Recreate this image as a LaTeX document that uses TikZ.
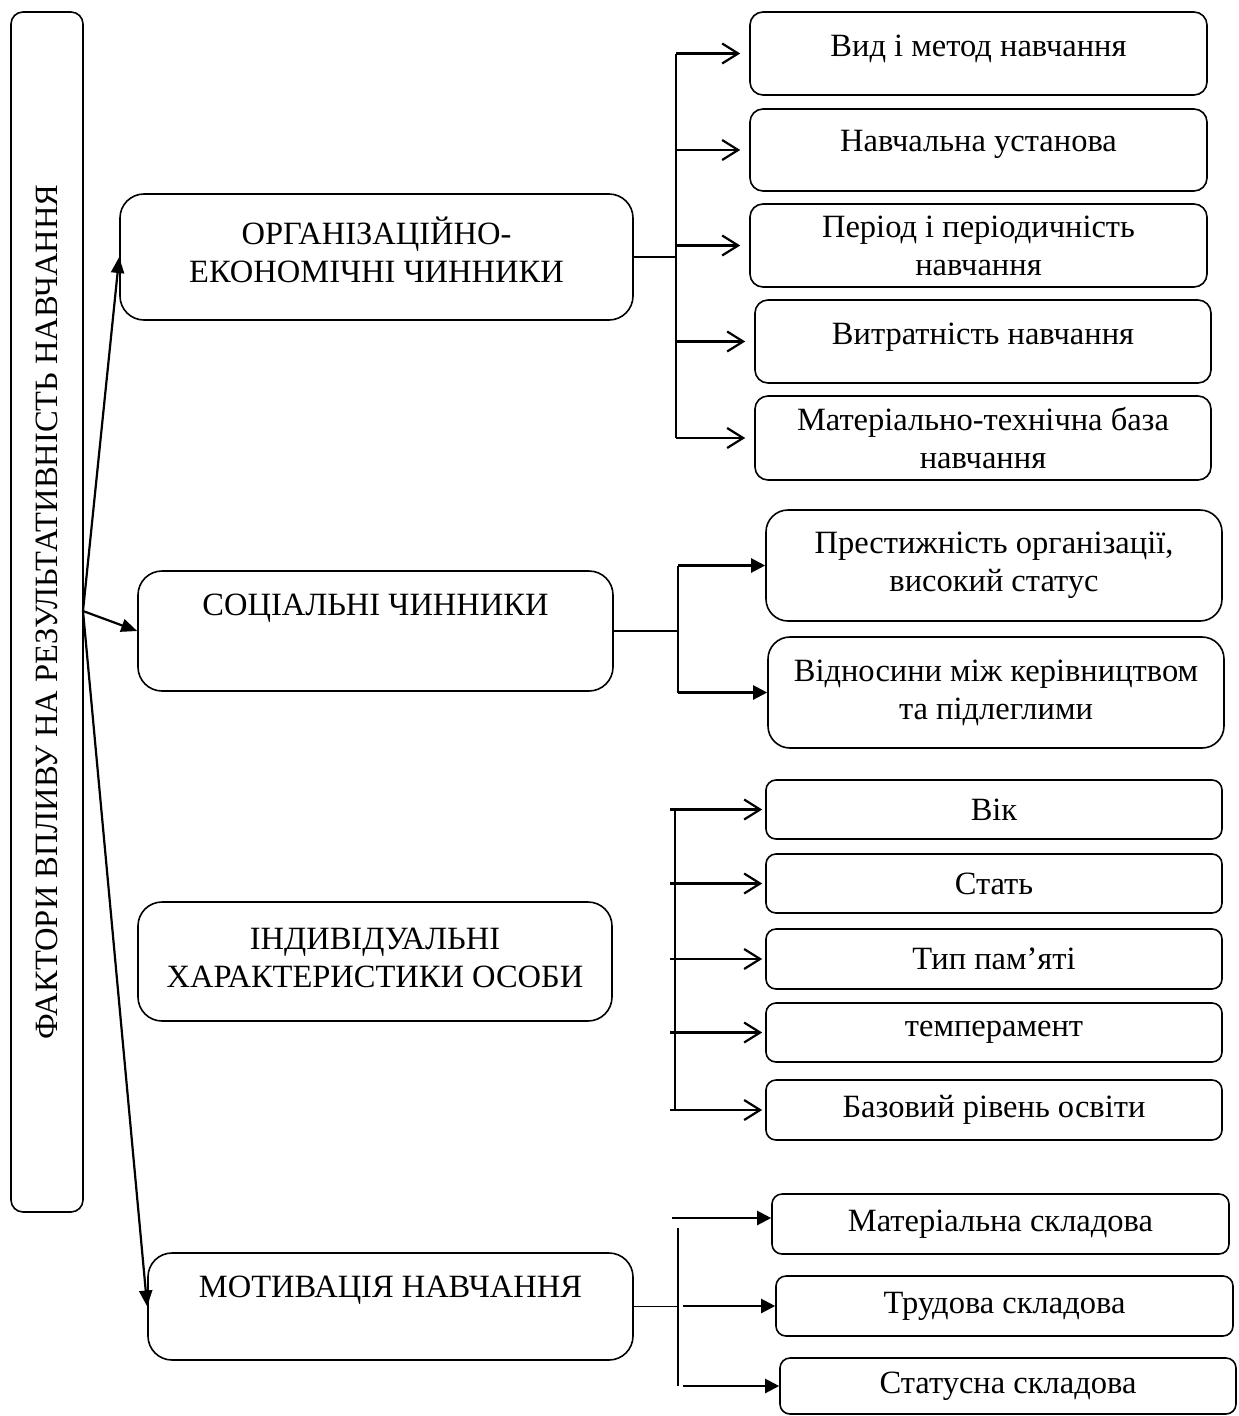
\documentclass[tikz,border=0pt]{standalone}
\usepackage{fontspec}
\setmainfont{Liberation Serif}
\usetikzlibrary{arrows.meta}
\begin{document}
\begin{tikzpicture}[x=1pt,y=-1pt,
  every node/.style={font=\fontsize{32.5}{38}\selectfont},
  box/.style={draw, line width=1.6pt, rounded corners=13pt, align=center, inner sep=0pt},
  big/.style={box, rounded corners=24pt},
  conn/.style={line width=2.2pt},
  openarr/.style={conn, -{Straight Barb[length=16pt,width=20pt]}},
  fillarr/.style={conn, -{Triangle[length=14pt,width=14pt]}},
  mainarr/.style={conn, -{Triangle[length=16pt,width=13pt]}}
]
\useasboundingbox (0,0) rectangle (1239,1416);

% left vertical box
\node[box, rounded corners=12pt, rotate=90, minimum width=1200pt, minimum height=72pt] (f) at (47,612)
  {ФАКТОРИ ВПЛИВУ НА РЕЗУЛЬТАТИВНІСТЬ НАВЧАННЯ};
\coordinate (o) at (83,611);

% main factor boxes
\node[big, minimum width=513pt, minimum height=126pt, text depth=14pt] (org) at (376.5,257)
  {ОРГАНІЗАЦІЙНО-\\ЕКОНОМІЧНІ ЧИННИКИ};
\node[big, minimum width=475pt, minimum height=120pt, text depth=52pt] (soc) at (375.5,631)
  {СОЦІАЛЬНІ ЧИННИКИ};
\node[big, minimum width=474pt, minimum height=119pt, text depth=7pt] (ind) at (375,961.5)
  {ІНДИВІДУАЛЬНІ\\ХАРАКТЕРИСТИКИ ОСОБИ};
\node[big, minimum width=485pt, minimum height=107pt, text depth=40pt] (mot) at (390.5,1306.5)
  {МОТИВАЦІЯ НАВЧАННЯ};

% group 1
\node[box, minimum width=457pt, minimum height=83pt, text depth=15pt] (a1) at (978.5,53.5) {Вид і метод навчання};
\node[box, minimum width=457pt, minimum height=82pt, text depth=19pt] (a2) at (978.5,150) {Навчальна установа};
\node[box, minimum width=457pt, minimum height=83pt] (a3) at (978.5,245.5) {Період і періодичність\\навчання};
\node[box, minimum width=456pt, minimum height=83pt, text depth=15pt] (a4) at (983,341.5) {Витратність навчання};
\node[box, minimum width=456pt, minimum height=84pt] (a5) at (983,438) {Матеріально-технічна база\\навчання};

% group 2
\node[box, rounded corners=22pt, minimum width=456pt, minimum height=111pt] (p1) at (994,565.5) {Престижність організації,\\високий статус};
\node[box, rounded corners=22pt, minimum width=456pt, minimum height=111pt] (p2) at (996,692.5) {Відносини між керівництвом\\та підлеглими};

% group 3
\node[box, rounded corners=10pt, minimum width=456pt, minimum height=59pt] (i1) at (994,809.5) {Вік};
\node[box, rounded corners=10pt, minimum width=456pt, minimum height=59pt] (i2) at (994,883.5) {Стать};
\node[box, rounded corners=10pt, minimum width=456pt, minimum height=60pt] (i3) at (994,959) {Тип пам’яті};
\node[box, rounded corners=10pt, minimum width=456pt, minimum height=59pt] (i4) at (994,1032.5) {темперамент};
\node[box, rounded corners=10pt, minimum width=456pt, minimum height=60pt] (i5) at (994,1110) {Базовий рівень освіти};

% group 4
\node[box, rounded corners=10pt, minimum width=457pt, minimum height=60pt] (m1) at (1000.5,1224) {Матеріальна складова};
\node[box, rounded corners=10pt, minimum width=457pt, minimum height=60pt] (m2) at (1004.5,1306) {Трудова складова};
\node[box, rounded corners=10pt, minimum width=456pt, minimum height=56pt] (m3) at (1008,1386) {Статусна складова};

% main arrows
\draw[mainarr] (o) -- (org.west);
\draw[mainarr] (o) -- (soc.west);
\draw[mainarr] (o) -- (mot.west);

% group 1 connectors
\coordinate (b1) at (676,0);
\draw[line width=1.5pt] (org.east) -- (b1 |- org.east);
\draw[conn] (b1 |- a1.west) -- (b1 |- a5.west);
\foreach \n in {a1,a2,a3,a4,a5}
  \draw[openarr, shorten >=9pt] (b1 |- \n.west) -- (\n.west);

% group 2 connectors
\coordinate (b2) at (678,0);
\draw[conn] (soc.east) -- (b2 |- soc.east);
\draw[conn] (b2 |- p1.west) -- (b2 |- p2.west);
\foreach \n in {p1,p2}
  \draw[fillarr] (b2 |- \n.west) -- (\n.west);

% group 3 connectors
\coordinate (b3) at (675,0);
\coordinate (b3s) at (670,0);
\draw[conn] (b3 |- i1.west) -- (b3 |- i5.west);
\foreach \n in {i1,i2,i3,i4,i5}
  \draw[openarr, shorten >=3pt] (b3s |- \n.west) -- (\n.west);

% group 4 connectors
\coordinate (b4) at (678,0);
\coordinate (b4s) at (683,0);
\draw[line width=1.5pt] (mot.east) -- (b4 |- mot.east);
\draw[conn] ([yshift=-4pt]b4 |- m1.west) -- (b4 |- m3.west);
\draw[fillarr] ([yshift=6pt]672,0 |- m1.west) -- ([yshift=6pt]m1.west);
\draw[fillarr] (b4s |- m2.west) -- (m2.west);
\draw[fillarr] (b4s |- m3.west) -- (m3.west);
\end{tikzpicture}
\end{document}
